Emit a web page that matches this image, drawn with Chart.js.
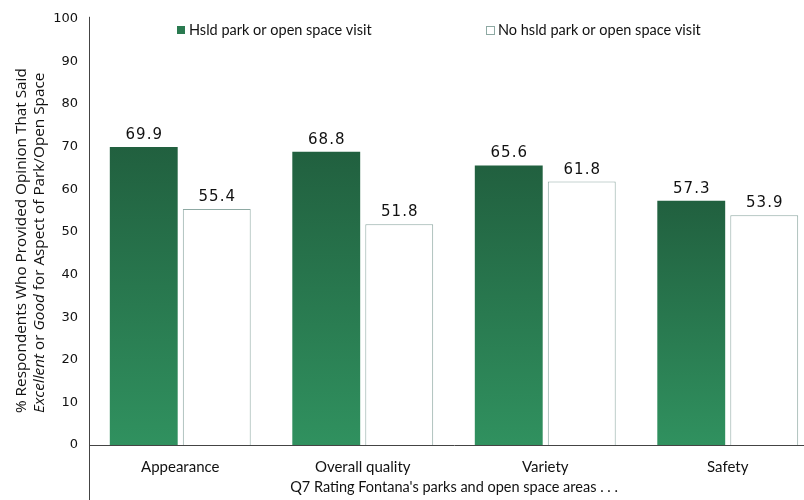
<!DOCTYPE html>
<html>
<head>
<meta charset="utf-8">
<script src="https://cdn.jsdelivr.net/npm/chart.js@4/dist/chart.umd.min.js"></script>
<style>
  html, body { margin: 0; padding: 0; background: #fff; }
  #wrap { width: 804px; height: 500px; overflow: hidden; position: relative; }
  canvas { display: block; }
</style>
</head>
<body>
<div id="wrap"><canvas id="c" width="830" height="500"></canvas></div>
<script>
// Survey results: share rating each park aspect Excellent or Good
const categories = ['Appearance', 'Overall quality', 'Variety', 'Safety'];
const visitLabel = 'Hsld park or open space visit';
const noVisitLabel = 'No hsld park or open space visit';
const visitValues = [69.9, 68.8, 65.6, 57.3];
const noVisitValues = [55.4, 51.8, 61.8, 53.9];
const yTicks = [0, 10, 20, 30, 40, 50, 60, 70, 80, 90, 100];

const GREEN_TOP = '#21603f';
const GREEN_BOTTOM = '#30915f';
const WHITE_EDGE = '#8ea9a3';
const TITLE_FONT = '"Open Sans", "Noto Sans", sans-serif';
const LABEL_FONT = 'Lato, "Liberation Sans", sans-serif';
const NUM_FONT = '"DejaVu Sans", Verdana, sans-serif';

// vertical gradient from each bar's top down to the baseline
function greenFill(ctx) {
  const chart = ctx.chart;
  const area = chart.chartArea;
  if (!area || ctx.type !== 'data') return GREEN_BOTTOM;
  const y = chart.scales.y;
  const top = y.getPixelForValue(ctx.raw);
  const bottom = y.getPixelForValue(0);
  const g = chart.ctx.createLinearGradient(0, top, 0, bottom);
  g.addColorStop(0, GREEN_TOP);
  g.addColorStop(1, GREEN_BOTTOM);
  return g;
}

const extras = {
  id: 'extras',
  afterDraw(chart) {
    const c = chart.ctx;
    const a = chart.chartArea;
    c.save();
    // y axis line running from the top of the plot to the bottom edge
    c.strokeStyle = '#444';
    c.lineWidth = 1;
    c.beginPath();
    c.moveTo(a.left + 0.5, a.top - 2);
    c.lineTo(a.left + 0.5, chart.height);
    c.stroke();

    // value labels above bars
    c.fillStyle = '#111';
    c.font = '15px ' + NUM_FONT;
    c.textAlign = 'center';
    c.textBaseline = 'alphabetic';
    if ('letterSpacing' in c) c.letterSpacing = '1px';
    chart.data.datasets.forEach((ds, di) => {
      const meta = chart.getDatasetMeta(di);
      meta.data.forEach((bar, i) => {
        c.fillText(ds.data[i].toFixed(1), bar.x + 0.5, bar.y - 8);
      });
    });
    if ('letterSpacing' in c) c.letterSpacing = '0px';

    // legend
    c.font = '14.5px ' + LABEL_FONT;
    c.textAlign = 'left';
    c.textBaseline = 'middle';
    const ly = 30;
    c.fillStyle = '#2a7a50';
    c.fillRect(177, ly - 4, 8, 8);
    c.fillStyle = '#111';
    c.fillText(chart.data.datasets[0].label, 189, ly);
    c.fillStyle = '#fff';
    c.fillRect(486.5, ly - 3.5, 8, 8);
    c.strokeStyle = WHITE_EDGE;
    c.strokeRect(486.5, ly - 3.5, 8, 8);
    c.fillStyle = '#111';
    c.fillText(chart.data.datasets[1].label, 498, ly);

    // y axis title (two lines, start-aligned, with italic words)
    const startY = 413;
    const lines = [
      [{ t: '% Respondents Who Provided Opinion That Said', i: false }],
      [{ t: 'Excellent', i: true }, { t: ' or ', i: false }, { t: 'Good', i: true }, { t: ' for Aspect of Park/Open Space', i: false }]
    ];
    const xs = [22, 40];
    const fontFor = it => (it ? 'italic ' : '') + '15.3px ' + TITLE_FONT;
    lines.forEach((parts, li) => {
      c.save();
      c.translate(xs[li], startY);
      c.rotate(-Math.PI / 2);
      c.textAlign = 'left';
      c.textBaseline = 'middle';
      c.fillStyle = '#111';
      let x = 0;
      parts.forEach(p => {
        c.font = fontFor(p.i);
        c.fillText(p.t, x, 0);
        x += c.measureText(p.t).width;
      });
      c.restore();
    });
    c.restore();
  }
};

function build() {
  new Chart(document.getElementById('c'), {
    type: 'bar',
    data: {
      labels: categories,
      datasets: [
        {
          label: visitLabel,
          data: visitValues,
          backgroundColor: greenFill,
          borderWidth: 0,
          categoryPercentage: 0.8,
          barPercentage: 0.93
        },
        {
          label: noVisitLabel,
          data: noVisitValues,
          backgroundColor: '#ffffff',
          borderColor: WHITE_EDGE,
          borderWidth: 1,
          categoryPercentage: 0.8,
          barPercentage: 0.93
        }
      ]
    },
    options: {
      responsive: false,
      animation: false,
      layout: { padding: { top: 17, right: 11, left: 0, bottom: 0 } },
      plugins: {
        legend: { display: false },
        tooltip: { enabled: false }
      },
      scales: {
        x: {
          grid: { display: false },
          border: { display: true, color: '#444', width: 1 },
          ticks: {
            color: '#111',
            font: { family: LABEL_FONT, size: 15 },
            padding: 5
          },
          title: {
            display: true,
            text: "Q7 Rating Fontana's parks and open space areas . . .",
            color: '#111',
            font: { family: LABEL_FONT, size: 14.5 },
            padding: { top: 4, bottom: 4 }
          },
          afterFit(scale) { scale.height = 55; }
        },
        y: {
          min: 0,
          max: 100,
          afterBuildTicks(scale) { scale.ticks = yTicks.map(v => ({ value: v })); },
          grid: { display: false, drawTicks: false },
          border: { display: false },
          ticks: {
            color: '#111',
            font: { family: NUM_FONT, size: 13 },
            padding: 11
          },
          afterFit(scale) { scale.width = 89; }
        }
      }
    },
    plugins: [extras]
  });
}

const fontLoads = [
  '15px "Open Sans"', 'italic 15px "Open Sans"', '15px Lato', '15px "DejaVu Sans"'
].map(f => document.fonts.load(f).catch(() => null));
Promise.all(fontLoads).then(build, build);
</script>
</body>
</html>
